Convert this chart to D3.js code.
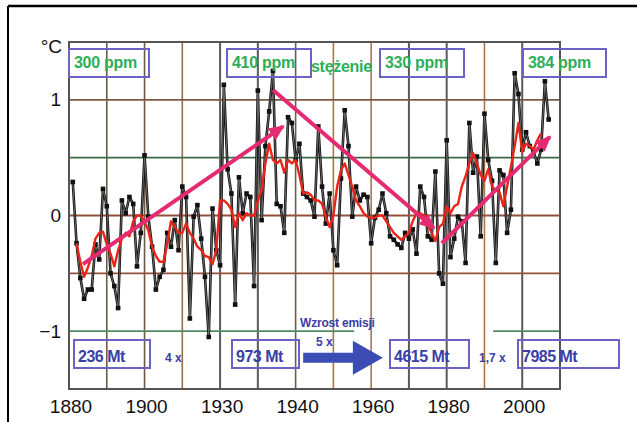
<!DOCTYPE html>
<html><head><meta charset="utf-8">
<script src="https://cdn.jsdelivr.net/npm/d3@7"></script>
<style>body{margin:0;background:#fff}svg{display:block}text{font-family:"Liberation Sans",Arial,sans-serif}</style>
</head><body>
<svg id="c" width="637" height="422"></svg>
<script>
// ---------- data ----------
const firstYear = 1881;
const anomaly = [
  0.29,-0.24,-0.54,-0.72,-0.64,-0.64,-0.25,-0.38,0.23,0.08,
  -0.5,-0.61,-0.8,0.13,0.02,0.16,0.1,-0.44,-0.15,0.52,
  -0.01,-0.27,-0.64,-0.53,-0.47,-0.15,-0.27,-0.04,-0.3,0.25,
  0.16,-0.89,-0.01,0.09,-0.2,-0.53,-1.05,0.06,-0.3,-0.43,
  1.13,0.4,0.19,-0.77,0.33,0.02,0.19,0.16,-0.61,1.08,
  -0.04,0.6,0.9,1.25,0.1,0.08,-0.15,0.85,0.8,0.48,
  0.62,0.19,0.16,0.13,-0.01,0.77,0.25,-0.07,0.19,-0.3,
  -0.43,0.32,0.91,0.6,-0.01,0.25,0.13,0.18,0.16,-0.24,
  -0.02,0.05,0.19,0.02,-0.18,-0.21,-0.25,-0.28,-0.15,-0.2,
  -0.12,-0.33,0.25,0.16,-0.18,-0.21,0.38,-0.5,-0.59,0.65,
  -0.36,-0.2,-0.01,-0.05,-0.41,0.8,0.37,0.51,-0.18,0.88,
  0.48,0.3,-0.41,0.39,0.35,-0.15,0.05,1.23,1.05,0.57,
  0.72,0.6,0.55,0.45,0.57,1.16,0.83
];
const smoothFirstYear = 1882;
const smoothed = [
  -0.24,-0.40,-0.53,-0.45,-0.35,-0.2,-0.15,-0.14,-0.25,
  -0.33,-0.44,-0.3,-0.2,-0.15,-0.18,-0.05,0.0,0.0,-0.05,
  -0.13,-0.27,-0.35,-0.4,-0.4,-0.25,-0.05,-0.1,-0.15,-0.15,
  -0.07,-0.15,-0.2,-0.27,-0.3,-0.35,-0.36,-0.42,-0.3,0.13,
  0.13,0.1,0.05,-0.1,0.02,-0.04,0.02,0.0,0.0,0.13,
  0.22,0.45,0.62,0.48,0.45,0.48,0.37,0.48,0.45,0.48,
  0.35,0.19,0.2,0.18,0.13,0.13,0.1,-0.01,-0.1,0.0,
  0.25,0.39,0.45,0.35,0.25,0.13,0.08,0.02,-0.01,-0.02,
  -0.02,0.0,0.0,-0.05,-0.1,-0.15,-0.18,-0.21,-0.18,-0.15,
  -0.05,0.02,0.02,0.0,-0.08,-0.15,-0.22,-0.1,-0.07,0.08,
  0.02,0.08,0.1,0.25,0.34,0.45,0.54,0.45,0.35,0.3,
  0.4,0.25,0.22,0.2,0.08,0.25,0.42,0.6,0.8,0.55,
  0.62,0.6,0.57,0.65,0.71
];
const gridYears = [1890,1900,1910,1920,1930,1940,1950,1960,1970,1980,1990,2000];
const gridValues = [1,0.5,0,-0.5,-1];
const tickYears = [1880,1900,1920,1940,1960,1980,2000];
const tickLabels = ["1880","1900","1930","1940","1960","1980","2000"];
const yTicks = [-1,0,1];
const yTickLabels = ["\u22121","0","1"];
const trendArrows = [
  [[1883.7,-0.42],[1936.7,0.77]],
  [[1934.0,1.085],[1976.6,-0.108]],
  [[1978.7,-0.24],[2007.3,0.68]]
];
const emissionArrow = [[1942.0,-1.23],[1963.1,-1.23]];
const ppmLabels = ["300 ppm","410 ppm","330 ppm","384 ppm"];
const emissionLabels = ["236 Mt","973 Mt","4615 Mt","7985 Mt"];
const ratioLabels = ["4 x","5 x","1,7 x"];
const captionConc = "st\u0119\u017cenie";
const captionEmis = "Wzrost emisji";

// ---------- layout ----------
const svg = d3.select("#c");
const x = d3.scaleLinear().domain([1880,2010]).range([69,560]);
const y = d3.scaleLinear().domain([-1.5,1.5]).range([389,42]);

// outer frame
svg.append("line").attr("x1",8).attr("x2",637).attr("y1",6).attr("y2",6).attr("stroke","#000").attr("stroke-width",2.5);
svg.append("line").attr("x1",8).attr("x2",8).attr("y1",6).attr("y2",422).attr("stroke","#000").attr("stroke-width",2);

// grid
const vColor = {1890:"#6e5846",1900:"#6e5846",1910:"#9a6e48",1920:"#5a5a5a",1930:"#5a5a5a",1940:"#6a5e52",
  1950:"#a8784c",1960:"#a8784c",1970:"#5a5a5a",1980:"#5a5a5a",1990:"#a8784c",2000:"#5a5a5a"};
svg.append("g").selectAll("line").data(gridYears).join("line")
  .attr("x1",d=>x(d)).attr("x2",d=>x(d)).attr("y1",y(1.5)).attr("y2",y(-1.5))
  .attr("stroke",d=>vColor[d]).attr("stroke-width",d=>vColor[d]==="#5a5a5a"?2:1.6);
const hColor = {"1":"#7d5a44","0.5":"#3f6a48","0":"#94503a","-0.5":"#94503a","-1":"#4f8c62"};
svg.append("g").selectAll("line").data(gridValues.filter(v=>v!==-1)).join("line")
  .attr("x1",x(1880)).attr("x2",x(2010)).attr("y1",d=>y(d)).attr("y2",d=>y(d))
  .attr("stroke",d=>hColor[String(d)]).attr("stroke-width",1.8);
[[1880,1955.5],[1992.3,2010]].forEach(s=>{
  svg.append("line").attr("x1",x(s[0])).attr("x2",x(s[1])).attr("y1",y(-1)).attr("y2",y(-1))
    .attr("stroke",hColor["-1"]).attr("stroke-width",1.8);
});
svg.append("rect").attr("x",x(1880)).attr("y",y(1.5)).attr("width",x(2010)-x(1880)).attr("height",y(-1.5)-y(1.5))
  .attr("fill","none").attr("stroke","#555").attr("stroke-width",2);

// axes
const xAxis = d3.axisBottom(x).tickValues(tickYears).tickSize(0).tickPadding(11)
  .tickFormat((d,i)=>tickLabels[i]);
const gx = svg.append("g").attr("transform",`translate(1.5,${y(-1.5)})`).call(xAxis);
gx.select(".domain").remove();
gx.selectAll("text").attr("font-size",19).attr("fill","#111").style("font-family","Liberation Sans, Arial");
const yAxis = d3.axisLeft(y).tickValues(yTicks).tickSize(0).tickPadding(8)
  .tickFormat((d,i)=>yTickLabels[i]);
const gy = svg.append("g").attr("transform",`translate(${x(1880)},0)`).call(yAxis);
gy.select(".domain").remove();
gy.selectAll("text").attr("font-size",19).attr("fill","#111").style("font-family","Liberation Sans, Arial");
svg.append("text").attr("x",62).attr("y",y(1.5)+11).attr("text-anchor","end")
  .attr("font-size",19).attr("fill","#111").text("\u00b0C");

// black series
const pts = anomaly.map((v,i)=>[firstYear+i,v]);
const line = d3.line().x(d=>x(d[0])).y(d=>y(d[1]));
svg.append("path").datum(pts).attr("d",line).attr("fill","none").attr("stroke","#111").attr("stroke-width",2.6).attr("stroke-linejoin","round");
svg.append("path").datum(pts).attr("d",line).attr("fill","none").attr("stroke","#8a8a8a").attr("stroke-width",0.7);
svg.append("g").selectAll("rect").data(pts).join("rect")
  .attr("x",d=>x(d[0])-2.3).attr("y",d=>y(d[1])-2.3).attr("width",4.6).attr("height",4.6).attr("fill","#111");

// red smoothed
const spts = smoothed.map((v,i)=>[smoothFirstYear+i,v]);
svg.append("path").datum(spts).attr("d",line).attr("fill","none").attr("stroke","#ec2418").attr("stroke-width",2.4).attr("stroke-linejoin","round");

// pink trend arrows
const pink = "#e62a72";
svg.append("defs").append("marker").attr("id","ah").attr("markerUnits","userSpaceOnUse")
  .attr("viewBox","0 0 16 16").attr("refX",14).attr("refY",8).attr("markerWidth",16).attr("markerHeight",16)
  .attr("orient","auto").append("path").attr("d","M0,1 L16,8 L0,15 Z").attr("fill",pink);
svg.append("g").selectAll("line").data(trendArrows).join("line")
  .attr("x1",d=>x(d[0][0])).attr("y1",d=>y(d[0][1])).attr("x2",d=>x(d[1][0])).attr("y2",d=>y(d[1][1]))
  .attr("stroke",pink).attr("stroke-width",4).attr("marker-end","url(#ah)");

// annotation boxes
const boxStroke = "#6b62c6";
const green = "#2fae5a";
const blue = "#3b3ea6";
const topBoxes = [[69,149],[227,311],[380,464],[523,606]];
topBoxes.forEach((b,i)=>{
  svg.append("rect").attr("x",b[0]).attr("y",49).attr("width",b[1]-b[0]).attr("height",28)
    .attr("fill","none").attr("stroke",boxStroke).attr("stroke-width",2);
  svg.append("text").attr("x",b[0]+5).attr("y",68).attr("font-size",16).attr("font-weight","bold")
    .attr("fill",green).attr("letter-spacing",-0.3).text(ppmLabels[i]);
});
svg.append("text").attr("x",311).attr("y",72).attr("font-size",16).attr("font-weight","bold")
  .attr("fill",green).attr("letter-spacing",-0.3).text(captionConc);

const botBoxes = [[74,150],[232,299],[390,469],[518,619]];
botBoxes.forEach((b,i)=>{
  svg.append("rect").attr("x",b[0]).attr("y",340).attr("width",b[1]-b[0]).attr("height",28)
    .attr("fill","none").attr("stroke",boxStroke).attr("stroke-width",2);
  svg.append("text").attr("x",b[0]+4).attr("y",362).attr("font-size",16).attr("font-weight","bold")
    .attr("fill",blue).attr("letter-spacing",-0.5).text(emissionLabels[i]);
});
const ratioPos = [[165,362],[316,346],[479,362]];
ratioLabels.forEach((t,i)=>{
  svg.append("text").attr("x",ratioPos[i][0]).attr("y",ratioPos[i][1]).attr("font-size",12).attr("font-weight","bold")
    .attr("fill",blue).text(t);
});
svg.append("text").attr("x",300).attr("y",327).attr("font-size",12).attr("font-weight","bold")
  .attr("fill",blue).attr("letter-spacing",-0.2).text(captionEmis);

// blue emission arrow
const ax0 = x(emissionArrow[0][0]), ax1 = x(emissionArrow[1][0]), ay = y(emissionArrow[0][1]);
const headLen = 30, shaftH = 5, headH = 17;
svg.append("path").attr("d",
  `M${ax0},${ay-shaftH} L${ax1-headLen},${ay-shaftH} L${ax1-headLen},${ay-headH} L${ax1},${ay} L${ax1-headLen},${ay+headH} L${ax1-headLen},${ay+shaftH} L${ax0},${ay+shaftH} Z`)
  .attr("fill","#3b4db4");
</script>
</body></html>
